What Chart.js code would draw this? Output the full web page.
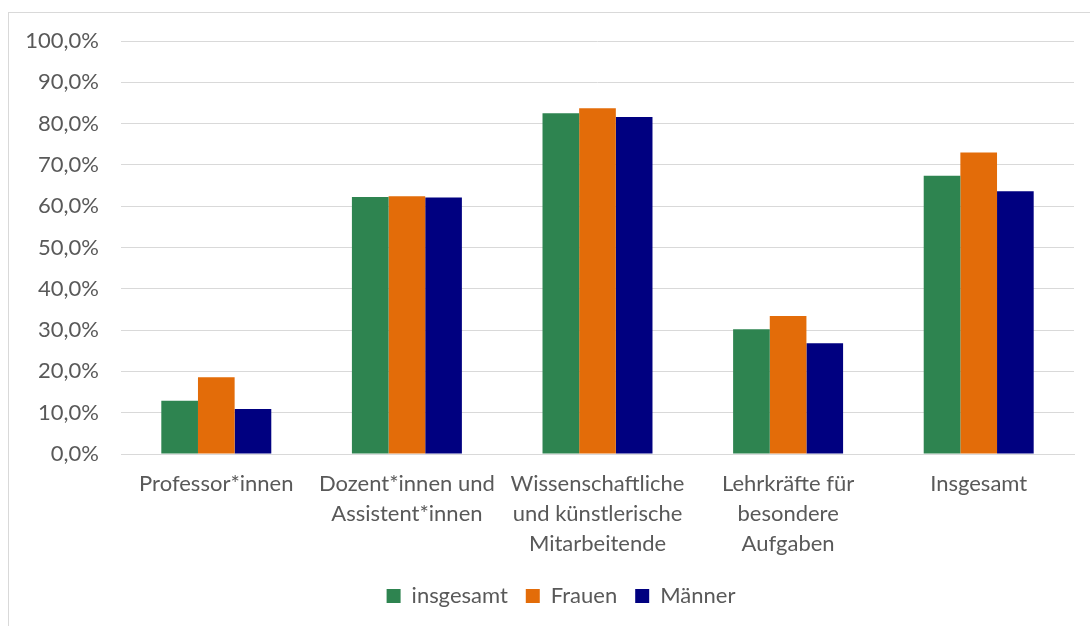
<!DOCTYPE html>
<html>
<head>
<meta charset="utf-8">
<script src="https://cdn.jsdelivr.net/npm/chart.js@4"></script>
<style>
  html, body { margin: 0; padding: 0; background: #fff; }
  #wrap { position: relative; width: 1090px; height: 626px; overflow: hidden; }
  #frame { position: absolute; left: 8px; top: 12px; width: 1200px; height: 800px; border: 1px solid #d9d9d9; }
  canvas { position: absolute; left: 0; top: 0; }
</style>
</head>
<body>
<div id="wrap">
  <div id="frame"></div>
  <canvas id="chart" width="1090" height="626"></canvas>
</div>
<script>
const categories = [
  'Professor*innen',
  ['Dozent*innen und', 'Assistent*innen'],
  ['Wissenschaftliche', 'und künstlerische', 'Mitarbeitende'],
  ['Lehrkräfte für', 'besondere', 'Aufgaben'],
  'Insgesamt'
]
const insgesamt = [12.9, 62.2, 82.5, 30.2, 67.4]
const frauen = [18.6, 62.4, 83.7, 33.4, 73.0]
const maenner = [10.9, 62.1, 81.6, 26.8, 63.6]

const fontFamily = 'Lato, "Open Sans", sans-serif'
const textColor = '#595959'

const data = {
  labels: categories,
  datasets: [
    { label: 'insgesamt', data: insgesamt, backgroundColor: '#2e8450' },
    { label: 'Frauen', data: frauen, backgroundColor: '#e36c09' },
    { label: 'Männer', data: maenner, backgroundColor: '#000080' }
  ]
}

// nudge the centred legend a bit to the right, like in the original
const legendShift = {
  id: 'legendShift',
  afterLayout: (chart) => {
    chart.legend.left += 24
    chart.legend.right += 24
  }
}

const options = {
  responsive: false,
  animation: false,
  layout: { padding: { left: 0, right: 16, top: 41, bottom: 9 } },
  datasets: { bar: { categoryPercentage: 0.577, barPercentage: 1.0, borderWidth: 0 } },
  scales: {
    x: {
      grid: { display: false },
      border: { display: true, color: '#d9d9d9', width: 1 },
      ticks: { color: textColor, font: { family: fontFamily, size: 22, lineHeight: 1.36 }, maxRotation: 0, autoSkip: false, padding: 7 },
      afterFit: (scale) => { scale.height = 113 }
    },
    y: {
      min: 0,
      max: 100,
      ticks: {
        stepSize: 10,
        color: textColor,
        padding: 22,
        font: { family: fontFamily, size: 22 },
        callback: (v) => v.toFixed(1).replace('.', ',') + '%'
      },
      grid: { color: '#d9d9d9', lineWidth: 1, drawTicks: false },
      border: { display: false },
      afterFit: (scale) => { scale.width = 121 }
    }
  },
  plugins: {
    legend: {
      position: 'bottom',
      labels: {
        color: textColor,
        font: { family: fontFamily, size: 22 },
        boxWidth: 14,
        boxHeight: 14,
        padding: 18
      }
    },
    tooltip: { enabled: false }
  }
}

const ctx = document.getElementById('chart').getContext('2d')
const myChart = new Chart(ctx, { type: 'bar', data, options, plugins: [legendShift] })
</script>
</body>
</html>
